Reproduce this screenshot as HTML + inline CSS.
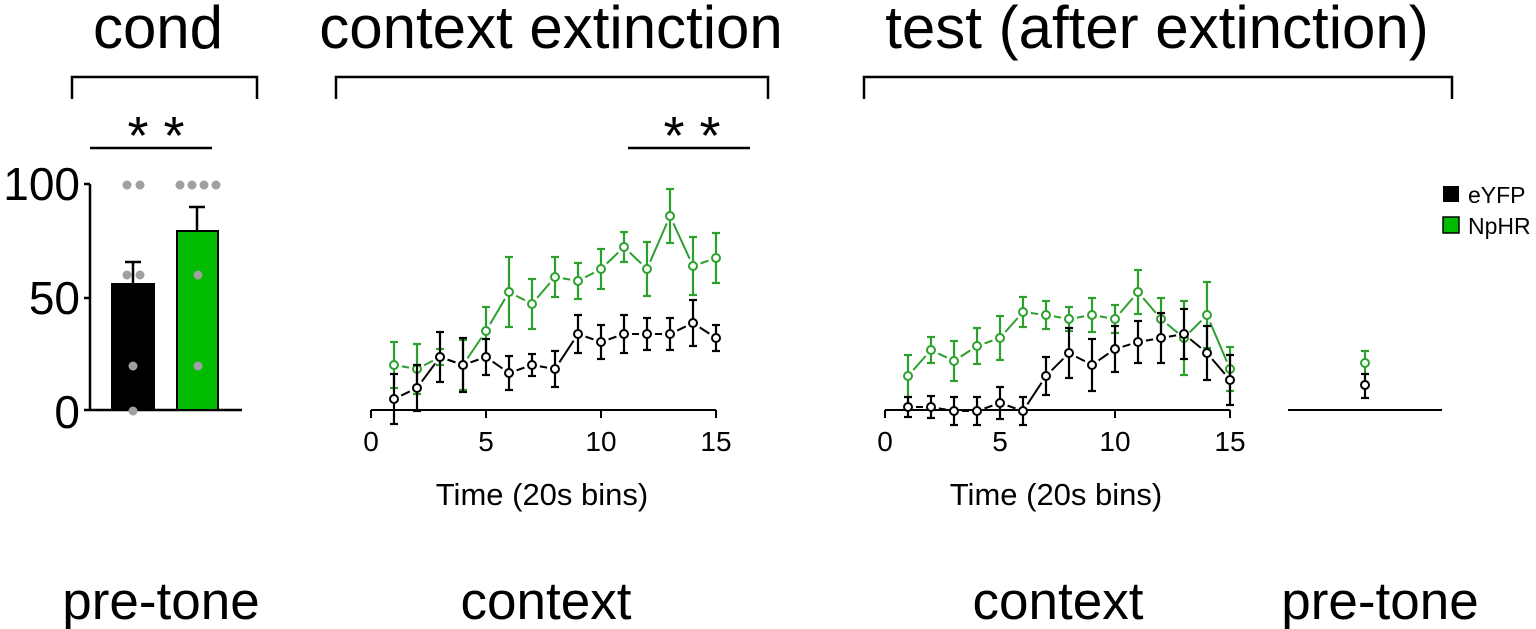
<!DOCTYPE html>
<html><head><meta charset="utf-8"><style>
html,body{margin:0;padding:0;background:#fff;}
svg{display:block;font-family:"Liberation Sans","DejaVu Sans",sans-serif;}
</style></head><body>
<svg id="s" width="1536" height="629" viewBox="0 0 1536 629" xmlns="http://www.w3.org/2000/svg">
<g font-size="60" text-anchor="middle" fill="#000">
<text x="158" y="48">cond</text>
<text x="551" y="48">context extinction</text>
<text x="1157" y="48">test (after extinction)</text>
</g>
<g fill="none" stroke="#000" stroke-width="2.5">
<path d="M72 99V77H257V99"/>
<path d="M336 99V77H768V99"/>
<path d="M864 99V77H1452V99"/>
<path d="M90 148H212"/>
<path d="M628 148H750"/>
</g>
<g font-size="54" text-anchor="middle"><text x="156" y="154">* *</text><text x="692" y="154">* *</text></g>
<g stroke="#000" stroke-width="2.5" fill="none">
<path d="M90 184V410M84 410H242M84 184H90M84 298H90"/>
</g>
<g font-size="46" text-anchor="end"><text x="80" y="200">100</text><text x="80" y="314">50</text><text x="80" y="428">0</text></g>
<rect x="112" y="284" width="42" height="126" fill="#000" stroke="#000" stroke-width="2"/>
<rect x="177" y="231" width="41" height="179" fill="#00bb00" stroke="#000" stroke-width="2"/>
<path d="M133 284V262M125 262H141M197 231V207M189 207H205" stroke="#000" stroke-width="2.5"/>
<g fill="#a0a0a0">
<circle cx="127" cy="185" r="4.5"/><circle cx="140" cy="185" r="4.5"/>
<circle cx="127" cy="275" r="4.5"/><circle cx="140" cy="275" r="4.5"/>
<circle cx="133" cy="366" r="4.5"/><circle cx="133" cy="411" r="4.5"/>
<circle cx="180" cy="185" r="4.5"/><circle cx="192" cy="185" r="4.5"/><circle cx="204" cy="185" r="4.5"/><circle cx="216" cy="185" r="4.5"/>
<circle cx="198" cy="275" r="4.5"/><circle cx="198" cy="366" r="4.5"/>
</g>
<g stroke="#000" stroke-width="2">
<path d="M371 410H716M371 410v8M486 410v8M601 410v8M716 410v8"/>
<path d="M885 410H1230M885 410v8M1000 410v8M1115 410v8M1230 410v8"/>
<path d="M1288 410H1442"/>
</g>
<g font-size="28" text-anchor="middle">
<text x="371" y="451">0</text><text x="486" y="451">5</text><text x="601" y="451">10</text><text x="716" y="451">15</text>
<text x="885" y="451">0</text><text x="1000" y="451">5</text><text x="1115" y="451">10</text><text x="1230" y="451">15</text>
</g>
<g font-size="31" text-anchor="middle">
<text x="542" y="505">Time (20s bins)</text><text x="1056" y="505">Time (20s bins)</text>
</g>
<g font-size="53" text-anchor="middle">
<text x="161" y="619">pre-tone</text><text x="546" y="619">context</text><text x="1058" y="619">context</text><text x="1380" y="619">pre-tone</text>
</g>
<rect x="1443" y="186" width="16" height="16" fill="#000"/>
<rect x="1443" y="217" width="16" height="16" fill="#00bb00" stroke="#000" stroke-width="1.5"/>
<g font-size="23"><text x="1468" y="203">eYFP</text><text x="1468" y="234">NpHR</text></g>
<g id="series"></g>
</svg>
<script>
var NS="http://www.w3.org/2000/svg",G=document.getElementById("series");
function el(t,a){var e=document.createElementNS(NS,t);for(var k in a)e.setAttribute(k,a[k]);G.appendChild(e);}
function series(x0,ys,es,col){
  var pts=ys.map(function(y,i){return [x0+23*(i+1),y];});
  for(var i=0;i<pts.length-1;i++){
    var a=pts[i],b=pts[i+1],dx=b[0]-a[0],dy=b[1]-a[1],L=Math.hypot(dx,dy),g=8;
    if(L>2*g+2)el("line",{x1:a[0]+dx*g/L,y1:a[1]+dy*g/L,x2:b[0]-dx*g/L,y2:b[1]-dy*g/L,stroke:col,"stroke-width":2});
  }
  pts.forEach(function(p,i){var e=es[i];
    el("line",{x1:p[0],y1:p[1]-e,x2:p[0],y2:p[1]+e,stroke:col,"stroke-width":2.2});
    el("line",{x1:p[0]-4,y1:p[1]-e,x2:p[0]+4,y2:p[1]-e,stroke:col,"stroke-width":2.2});
    el("line",{x1:p[0]-4,y1:p[1]+e,x2:p[0]+4,y2:p[1]+e,stroke:col,"stroke-width":2.2});
    el("circle",{cx:p[0],cy:p[1],r:4,fill:"#fff",stroke:col,"stroke-width":2});
  });
}
var GR="#2ca02c";
series(371,[365,369,357,365,331,292,304,277,281,269,247,269,216,266,258],[23,25,8,25,24,35,25,20,18,20,15,27,27,29,25],GR);
series(371,[399,388,357,365,357,373,365,369,334,342,334,334,334,323,338],[25,23,25,27,18,17,11,18,19,17,19,16,16,23,13],"#000");
series(885,[376,350,361,346,338,312,315,319,315,319,292,319,338,315,369],[21,13,20,18,22,15,14,12,17,14,22,21,37,33,22],GR);
series(885,[407,407,411,411,403,411,376,353,365,349,342,338,334,353,380],[10,11,14,14,16,14,19,25,26,23,21,25,25,27,25],"#000");
el("line",{x1:1365,y1:351,x2:1365,y2:375,stroke:GR,"stroke-width":2.2});
el("line",{x1:1361,y1:351,x2:1369,y2:351,stroke:GR,"stroke-width":2.2});
el("circle",{cx:1365,cy:363,r:4,fill:"#fff",stroke:GR,"stroke-width":2});
el("line",{x1:1365,y1:374,x2:1365,y2:398,stroke:"#000","stroke-width":2.2});
el("line",{x1:1361,y1:374,x2:1369,y2:374,stroke:"#000","stroke-width":2.2});
el("line",{x1:1361,y1:398,x2:1369,y2:398,stroke:"#000","stroke-width":2.2});
el("circle",{cx:1365,cy:385,r:4,fill:"#fff",stroke:"#000","stroke-width":2});
</script>
</body></html>
